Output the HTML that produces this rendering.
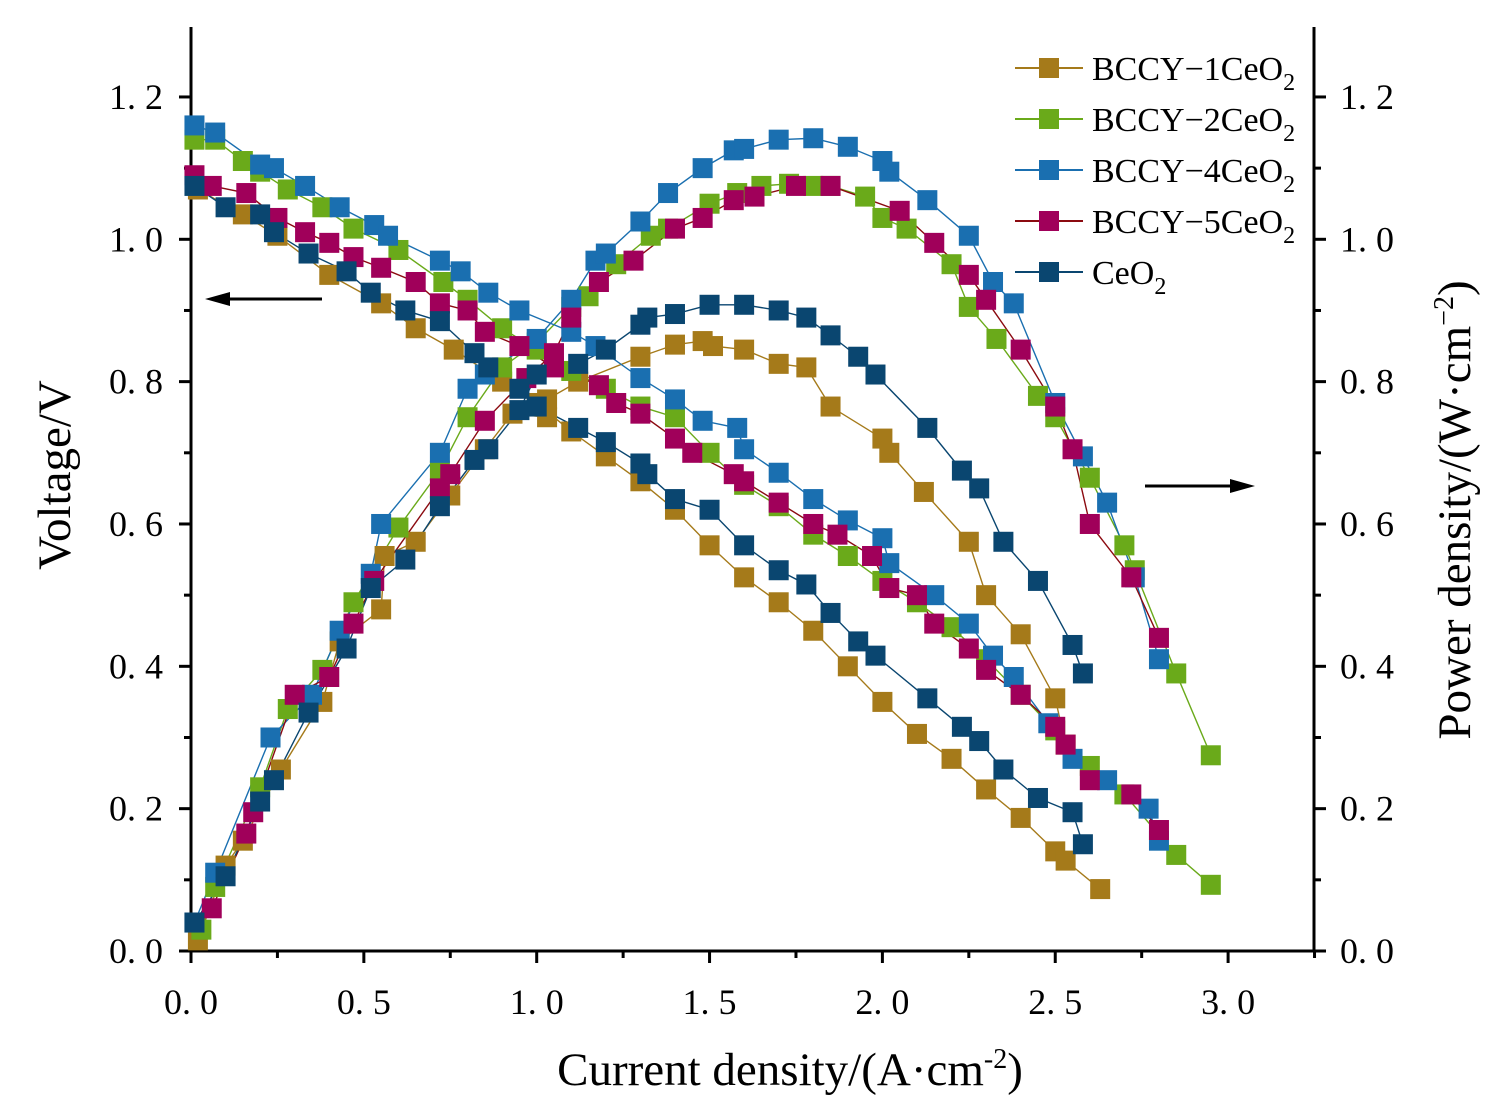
<!DOCTYPE html>
<html><head><meta charset="utf-8"><style>
html,body{margin:0;padding:0;background:#fff;}
svg text{font-family:"Liberation Serif",serif;fill:#000;}
</style></head><body>
<svg id="s" width="1506" height="1110" xmlns="http://www.w3.org/2000/svg"></svg>
<script>
const s=document.getElementById('s');
const X=a=>191+a*345.7, Y=v=>951-v*711.7;
let h='';
h+='<line x1="191" y1="27" x2="191" y2="952" stroke="#000" stroke-width="3"/>';
h+='<line x1="1314" y1="27" x2="1314" y2="952" stroke="#000" stroke-width="3"/>';
h+='<line x1="189" y1="951" x2="1316" y2="951" stroke="#000" stroke-width="3"/>';
for(let i=0;i<=12;i++){const y=Y(i*0.1),L=i%2==0?12:7;
 h+=`<line x1="${191-L}" y1="${y}" x2="191" y2="${y}" stroke="#000" stroke-width="3"/>`;
 h+=`<line x1="1314" y1="${y}" x2="${1314+L}" y2="${y}" stroke="#000" stroke-width="3"/>`;
 if(i%2==0){const t=(i/10).toFixed(1).replace('.', '. ');
  h+=`<text x="163" y="${y+12}" font-size="36" text-anchor="end">${t}</text>`;
  h+=`<text x="1340" y="${y+12}" font-size="36">${t}</text>`;}}
for(let i=0;i<=13;i++){const x=X(i*0.25),L=i%2==0?12:7;
 h+=`<line x1="${x}" y1="951" x2="${x}" y2="${951+L}" stroke="#000" stroke-width="3"/>`;
 if(i%2==0&&i<=12)h+=`<text x="${x}" y="1014" font-size="36" text-anchor="middle">${(i*0.25).toFixed(1).replace('.', '. ')}</text>`;}
h+='<text transform="translate(70,475) rotate(-90)" font-size="47" text-anchor="middle">Voltage/V</text>';
h+='<text x="790" y="1085" font-size="47" text-anchor="middle">Current density/(A·cm<tspan dy="-17" font-size="28">-2</tspan><tspan dy="17">)</tspan></text>';
h+='<text transform="translate(1470,510) rotate(-90)" font-size="47" text-anchor="middle">Power density/(W·cm<tspan dy="-17" font-size="28">−2</tspan><tspan dy="17">)</tspan></text>';
h+='<line x1="322" y1="299" x2="225" y2="299" stroke="#000" stroke-width="3"/><polygon points="205,299 230,292 230,306" fill="#000"/>';
h+='<line x1="1145" y1="486" x2="1235" y2="486" stroke="#000" stroke-width="3"/><polygon points="1255,486 1230,479 1230,493" fill="#000"/>';
const D=[
['#A57A1A','#A57A1A',
[[0.02,1.07],[0.15,1.035],[0.25,1.005],[0.4,0.95],[0.55,0.91],[0.65,0.875],[0.76,0.845],[0.9,0.8],[1.0,0.77],[1.1,0.73],[1.2,0.695],[1.3,0.66],[1.4,0.62],[1.5,0.57],[1.6,0.525],[1.7,0.49],[1.8,0.45],[1.9,0.4],[2.0,0.35],[2.1,0.305],[2.2,0.27],[2.3,0.227],[2.4,0.187],[2.5,0.14],[2.53,0.127],[2.63,0.087]],
[[0.02,0.015],[0.1,0.12],[0.15,0.155],[0.26,0.255],[0.38,0.35],[0.43,0.435],[0.55,0.48],[0.56,0.555],[0.65,0.575],[0.75,0.64],[0.85,0.705],[0.93,0.755],[1.03,0.75],[1.03,0.775],[1.12,0.8],[1.3,0.835],[1.4,0.852],[1.48,0.857],[1.51,0.85],[1.6,0.845],[1.7,0.825],[1.78,0.82],[1.85,0.765],[2.0,0.72],[2.02,0.7],[2.12,0.645],[2.25,0.575],[2.3,0.5],[2.4,0.445],[2.5,0.355],[2.53,0.29]]],
['#6AAA1A','#6AAA1A',
[[0.01,1.14],[0.07,1.14],[0.15,1.11],[0.2,1.095],[0.28,1.07],[0.38,1.045],[0.47,1.015],[0.6,0.985],[0.73,0.94],[0.8,0.915],[0.9,0.875],[1.0,0.845],[1.1,0.815],[1.2,0.79],[1.3,0.765],[1.4,0.75],[1.5,0.7],[1.6,0.655],[1.7,0.625],[1.8,0.585],[1.9,0.555],[2.0,0.52],[2.1,0.49],[2.2,0.455],[2.3,0.41],[2.4,0.36],[2.5,0.31],[2.6,0.26],[2.7,0.22],[2.85,0.135],[2.95,0.093]],
[[0.03,0.03],[0.07,0.09],[0.2,0.23],[0.28,0.34],[0.38,0.395],[0.47,0.49],[0.6,0.595],[0.72,0.675],[0.8,0.75],[0.9,0.82],[1.0,0.855],[1.1,0.905],[1.15,0.92],[1.23,0.965],[1.33,1.005],[1.38,1.015],[1.5,1.05],[1.58,1.065],[1.65,1.075],[1.73,1.078],[1.8,1.075],[1.85,1.075],[1.95,1.06],[2.0,1.03],[2.07,1.015],[2.2,0.965],[2.25,0.905],[2.33,0.86],[2.45,0.78],[2.5,0.75],[2.6,0.665],[2.7,0.57],[2.73,0.535],[2.85,0.39],[2.95,0.275]]],
['#1A6FB0','#1A6FB0',
[[0.01,1.16],[0.07,1.15],[0.2,1.105],[0.24,1.1],[0.33,1.075],[0.43,1.045],[0.53,1.02],[0.57,1.005],[0.72,0.97],[0.78,0.955],[0.86,0.925],[0.95,0.9],[1.1,0.87],[1.17,0.85],[1.3,0.805],[1.4,0.775],[1.48,0.745],[1.58,0.735],[1.6,0.705],[1.7,0.672],[1.8,0.635],[1.9,0.605],[2.0,0.58],[2.02,0.545],[2.15,0.5],[2.25,0.46],[2.32,0.415],[2.38,0.385],[2.48,0.32],[2.55,0.27],[2.65,0.24],[2.77,0.2],[2.8,0.155]],
[[0.01,0.04],[0.07,0.11],[0.23,0.3],[0.35,0.36],[0.43,0.45],[0.52,0.53],[0.55,0.6],[0.72,0.7],[0.8,0.79],[0.85,0.81],[1.0,0.86],[1.1,0.915],[1.17,0.97],[1.2,0.98],[1.3,1.025],[1.38,1.065],[1.48,1.1],[1.57,1.125],[1.6,1.127],[1.7,1.14],[1.8,1.142],[1.9,1.13],[2.0,1.11],[2.02,1.095],[2.13,1.055],[2.25,1.005],[2.32,0.94],[2.38,0.91],[2.5,0.77],[2.58,0.695],[2.65,0.63],[2.73,0.525],[2.8,0.41]]],
['#A0005A','#8B0A10',
[[0.01,1.09],[0.06,1.075],[0.16,1.065],[0.25,1.03],[0.33,1.01],[0.4,0.995],[0.47,0.975],[0.55,0.96],[0.65,0.94],[0.72,0.91],[0.8,0.9],[0.85,0.87],[0.95,0.85],[1.05,0.82],[1.18,0.795],[1.23,0.77],[1.3,0.755],[1.4,0.72],[1.45,0.7],[1.57,0.67],[1.6,0.66],[1.7,0.63],[1.8,0.6],[1.87,0.585],[1.97,0.555],[2.02,0.51],[2.1,0.5],[2.15,0.46],[2.25,0.425],[2.3,0.395],[2.4,0.36],[2.5,0.315],[2.53,0.29],[2.6,0.24],[2.72,0.22],[2.8,0.17]],
[[0.06,0.06],[0.16,0.165],[0.18,0.195],[0.3,0.36],[0.4,0.385],[0.47,0.46],[0.53,0.52],[0.72,0.65],[0.75,0.67],[0.85,0.745],[0.97,0.805],[1.05,0.84],[1.1,0.89],[1.18,0.94],[1.28,0.97],[1.4,1.015],[1.48,1.03],[1.57,1.055],[1.63,1.06],[1.75,1.075],[1.85,1.075],[2.05,1.04],[2.15,0.995],[2.25,0.95],[2.3,0.915],[2.4,0.845],[2.5,0.765],[2.55,0.705],[2.6,0.6],[2.72,0.525],[2.8,0.44]]],
['#0A4670','#0A4670',
[[0.01,1.075],[0.1,1.045],[0.2,1.035],[0.24,1.01],[0.34,0.98],[0.45,0.955],[0.52,0.925],[0.62,0.9],[0.72,0.885],[0.82,0.84],[0.86,0.82],[0.95,0.79],[1.0,0.765],[1.12,0.735],[1.2,0.715],[1.3,0.685],[1.32,0.67],[1.4,0.635],[1.5,0.62],[1.6,0.57],[1.7,0.535],[1.78,0.515],[1.85,0.475],[1.93,0.435],[1.98,0.415],[2.13,0.355],[2.23,0.315],[2.28,0.295],[2.35,0.255],[2.45,0.215],[2.55,0.195],[2.58,0.15]],
[[0.01,0.04],[0.1,0.105],[0.2,0.21],[0.24,0.24],[0.34,0.335],[0.45,0.425],[0.52,0.51],[0.62,0.55],[0.72,0.625],[0.82,0.69],[0.86,0.705],[0.95,0.76],[1.0,0.81],[1.12,0.825],[1.2,0.845],[1.3,0.88],[1.32,0.89],[1.4,0.895],[1.5,0.908],[1.6,0.908],[1.7,0.9],[1.78,0.89],[1.85,0.865],[1.93,0.835],[1.98,0.81],[2.13,0.735],[2.23,0.675],[2.28,0.65],[2.35,0.575],[2.45,0.52],[2.55,0.43],[2.58,0.39]]]];
let mk='';
D.forEach(([c,lc,vp,pp])=>{
 [vp,pp].forEach(a0=>{const a=a0.map(q=>[X(q[0]),Y(q[1])]);
  h+=`<polyline fill="none" stroke="${lc}" stroke-width="1.4" points="${a.map(q=>q.join(',')).join(' ')}"/>`;
  a.forEach(q=>mk+=`<rect x="${q[0]-10}" y="${q[1]-10}" width="20" height="20" fill="${c}"/>`);});
});
h+=mk;
const names=['BCCY−1CeO','BCCY−2CeO','BCCY−4CeO','BCCY−5CeO','CeO'];
D.forEach(([c,lc],i)=>{const y=68+i*51;
 h+=`<line x1="1015" y1="${y}" x2="1083" y2="${y}" stroke="${lc}" stroke-width="2"/><rect x="1039" y="${y-10}" width="20" height="20" fill="${c}"/>`;
 h+=`<text x="1092" y="${y+12}" font-size="34">${names[i]}<tspan dy="10" font-size="24">2</tspan></text>`;});
s.innerHTML=h;
</script>
</body></html>
